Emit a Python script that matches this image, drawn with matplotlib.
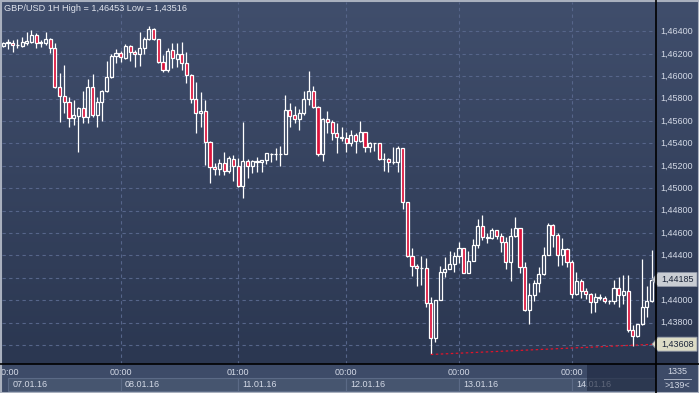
import matplotlib
matplotlib.use("Agg")
import matplotlib.pyplot as plt
import numpy as np
from matplotlib.patches import Rectangle, Polygon

plt.rcParams['font.family'] = ['Liberation Sans', 'DejaVu Sans']

# ---------------- data ----------------
title = "GBP/USD 1H High = 1,46453 Low = 1,43516"

opens = [1.46270, 1.46300, 1.46300, 1.46279, 1.46273, 1.46300, 1.46309, 1.46368, 1.46294, 1.46294,
         1.46330, 1.46250, 1.45907, 1.45826, 1.45767, 1.45625, 1.45648, 1.45714, 1.45633, 1.45907,
         1.45654, 1.45767, 1.45868, 1.45991, 1.46181, 1.46205, 1.46160, 1.46270, 1.46214, 1.46199,
         1.46250, 1.46333, 1.46419, 1.46333, 1.46130, 1.46056, 1.46235, 1.46157, 1.46196, 1.46121,
         1.46011, 1.45794, 1.45669, 1.45690, 1.45416, 1.45187, 1.45169, 1.45223, 1.45154, 1.45261,
         1.45199, 1.45020, 1.45243, 1.45199, 1.45237, 1.45232, 1.45252, 1.45306, 1.45306, 1.45303,
         1.45303, 1.45699, 1.45654, 1.45618, 1.45669, 1.45794, 1.45868, 1.45728, 1.45306, 1.45616,
         1.45594, 1.45496, 1.45460, 1.45446, 1.45401, 1.45475, 1.45425, 1.45499, 1.45366, 1.45401,
         1.45401, 1.45261, 1.45258, 1.45232, 1.45232, 1.45357, 1.44875, 1.44398, 1.44308, 1.44285,
         1.44285, 1.43973, 1.43660, 1.44002, 1.44255, 1.44276, 1.44324, 1.44395, 1.44464, 1.44240,
         1.44350, 1.44493, 1.44663, 1.44553, 1.44553, 1.44627, 1.44576, 1.44523, 1.44344, 1.44574,
         1.44642, 1.44299, 1.43913, 1.44047, 1.44157, 1.44234, 1.44404, 1.44672, 1.44582, 1.44404,
         1.44455, 1.44339, 1.44053, 1.44172, 1.44083, 1.44053, 1.43982, 1.44023, 1.44023, 1.43993,
         1.43993, 1.44107, 1.44047, 1.44083, 1.43734, 1.43683, 1.43785, 1.43937, 1.43993]

highs = [1.46306, 1.46330, 1.46324, 1.46330, 1.46348, 1.46393, 1.46413, 1.46384, 1.46324, 1.46398,
         1.46339, 1.46300, 1.46026, 1.46101, 1.45812, 1.45788, 1.45723, 1.45871, 1.45973, 1.46020,
         1.45812, 1.45877, 1.46139, 1.46196, 1.46241, 1.46226, 1.46288, 1.46279, 1.46235, 1.46393,
         1.46348, 1.46453, 1.46428, 1.46333, 1.46190, 1.46250, 1.46294, 1.46300, 1.46309, 1.46219,
         1.46020, 1.45951, 1.45857, 1.45788, 1.45422, 1.45223, 1.45261, 1.45321, 1.45288, 1.45297,
         1.45267, 1.45594, 1.45261, 1.45252, 1.45276, 1.45256, 1.45317, 1.45312, 1.45357, 1.45377,
         1.45833, 1.45764, 1.45734, 1.45705, 1.45868, 1.46047, 1.45913, 1.45734, 1.45625, 1.45690,
         1.45610, 1.45580, 1.45550, 1.45505, 1.45520, 1.45491, 1.45600, 1.45505, 1.45416, 1.45407,
         1.45407, 1.45317, 1.45267, 1.45366, 1.45377, 1.45357, 1.44875, 1.44464, 1.44324, 1.44395,
         1.44374, 1.44032, 1.44002, 1.44306, 1.44383, 1.44439, 1.44433, 1.44517, 1.44464, 1.44439,
         1.44547, 1.44725, 1.44761, 1.44598, 1.44642, 1.44627, 1.44598, 1.44562, 1.44642, 1.44746,
         1.44642, 1.44344, 1.44151, 1.44181, 1.44299, 1.44473, 1.44687, 1.44681, 1.44598, 1.44553,
         1.44469, 1.44359, 1.44255, 1.44190, 1.44107, 1.44062, 1.44067, 1.44053, 1.44038, 1.44002,
         1.44181, 1.44205, 1.44225, 1.44225, 1.43779, 1.43785, 1.44365, 1.44127, 1.44448]

lows = [1.46261, 1.46241, 1.46219, 1.46250, 1.46264, 1.46279, 1.46294, 1.46250, 1.46259, 1.46279,
        1.46205, 1.45892, 1.45594, 1.45669, 1.45544, 1.45565, 1.45326, 1.45585, 1.45585, 1.45639,
        1.45550, 1.45603, 1.45862, 1.45982, 1.46116, 1.46130, 1.46151, 1.46136, 1.46085, 1.46092,
        1.46196, 1.46324, 1.46324, 1.46121, 1.46041, 1.46041, 1.46071, 1.46085, 1.46056, 1.45942,
        1.45764, 1.45496, 1.45550, 1.45208, 1.45050, 1.45118, 1.45118, 1.45118, 1.45139, 1.45067,
        1.45015, 1.44916, 1.45089, 1.45134, 1.45148, 1.45148, 1.45217, 1.45237, 1.45252, 1.45199,
        1.45303, 1.45550, 1.45580, 1.45520, 1.45654, 1.45743, 1.45714, 1.45291, 1.45243, 1.45496,
        1.45431, 1.45317, 1.45425, 1.45326, 1.45377, 1.45317, 1.45416, 1.45326, 1.45326, 1.45333,
        1.45252, 1.45157, 1.45148, 1.45217, 1.45148, 1.44815, 1.44389, 1.44219, 1.44130, 1.44136,
        1.43942, 1.43516, 1.43630, 1.44002, 1.44210, 1.44276, 1.44255, 1.44330, 1.44240, 1.44240,
        1.44350, 1.44464, 1.44538, 1.44508, 1.44544, 1.44544, 1.44433, 1.44279, 1.44174, 1.44562,
        1.44246, 1.43906, 1.43788, 1.43996, 1.44076, 1.44225, 1.44404, 1.44478, 1.44306, 1.44315,
        1.44299, 1.44017, 1.44047, 1.44017, 1.44008, 1.43889, 1.43898, 1.44002, 1.43973, 1.43967,
        1.43967, 1.43942, 1.43967, 1.43719, 1.43591, 1.43672, 1.43779, 1.43853, 1.43987]

closes = [1.46300, 1.46302, 1.46276, 1.46279, 1.46303, 1.46315, 1.46368, 1.46294, 1.46303, 1.46330,
          1.46250, 1.45907, 1.45826, 1.45767, 1.45625, 1.45654, 1.45714, 1.45633, 1.45907, 1.45654,
          1.45767, 1.45868, 1.45991, 1.46181, 1.46205, 1.46169, 1.46270, 1.46214, 1.46199, 1.46250,
          1.46333, 1.46419, 1.46333, 1.46130, 1.46056, 1.46228, 1.46160, 1.46196, 1.46121, 1.46011,
          1.45794, 1.45669, 1.45690, 1.45416, 1.45187, 1.45169, 1.45223, 1.45154, 1.45267, 1.45199,
          1.45020, 1.45243, 1.45199, 1.45243, 1.45241, 1.45252, 1.45312, 1.45306, 1.45308, 1.45303,
          1.45699, 1.45645, 1.45618, 1.45669, 1.45794, 1.45868, 1.45728, 1.45306, 1.45616, 1.45594,
          1.45496, 1.45460, 1.45446, 1.45401, 1.45475, 1.45425, 1.45499, 1.45366, 1.45401, 1.45401,
          1.45261, 1.45261, 1.45232, 1.45236, 1.45357, 1.44875, 1.44398, 1.44308, 1.44285, 1.44285,
          1.43973, 1.43660, 1.44002, 1.44255, 1.44276, 1.44324, 1.44395, 1.44464, 1.44240, 1.44350,
          1.44493, 1.44663, 1.44562, 1.44562, 1.44627, 1.44576, 1.44523, 1.44344, 1.44574, 1.44642,
          1.44299, 1.43913, 1.44047, 1.44157, 1.44234, 1.44404, 1.44672, 1.44582, 1.44404, 1.44455,
          1.44339, 1.44053, 1.44172, 1.44083, 1.44053, 1.43982, 1.44026, 1.44023, 1.43993, 1.43993,
          1.44107, 1.44047, 1.44083, 1.43734, 1.43683, 1.43785, 1.43937, 1.43993, 1.44185]

price_ticks = [1.464, 1.462, 1.460, 1.458, 1.456, 1.454, 1.452, 1.450, 1.448, 1.446, 1.444,
               1.442, 1.440, 1.438, 1.436]
price_labels_hidden = [1.442, 1.436]          # covered by the flags
time_idx = [1, 25, 50, 73, 97, 121]
time_labels = ["00:00", "00:00", "01:00", "00:00", "00:00", "00:00"]
date_labels = ["07.01.16", "08.01.16", "11.01.16", "12.01.16", "13.01.16", "14.01.16"]
last_price = 1.44185
trend_start_idx = 91
trend_start = 1.43516
trend_end = 1.43608
bars_total = "1335"
bars_visible = ">139<"

n = len(opens)
assert len(highs) == n and len(lows) == n and len(closes) == n

# ---------------- layout ----------------
W, H = 699, 393
fig = plt.figure(figsize=(W / 100, H / 100), dpi=100)
PL, PR, PT, PB = 2, 656, 2, 364       # plot area in pixels
XMIN, XMAX = -0.27, 138.94
YMIN, YMAX = 1.43431, 1.46663

BULL_EDGE = "#ffffff"
BEAR_FILL = "#dc143c"
GRID = "#56658a"
TXT = "#d3d9e6"

# background
bg = fig.add_axes([0, 0, 1, 1], zorder=0)
bg.set_xlim(0, W); bg.set_ylim(H, 0); bg.axis("off")
top = np.array([0x40, 0x4e, 0x6c]) / 255.0
bot = np.array([0x2b, 0x37, 0x51]) / 255.0
t = np.linspace(0, 1, 200)[:, None, None]
grad = top + (bot - top) * t
grad = np.repeat(grad, 2, axis=1)
bg.imshow(grad, extent=(0, W, PB, 0), aspect="auto", interpolation="bilinear")
bg.add_patch(Rectangle((0, PB), W, H - PB, facecolor="#3d4b68", edgecolor="none"))

# main axes
ax = fig.add_axes([PL / W, 1 - PB / H, (PR - PL) / W, (PB - PT) / H], zorder=1)
ax.set_facecolor("none")
ax.set_xlim(XMIN, XMAX); ax.set_ylim(YMIN, YMAX)
for s in ax.spines.values():
    s.set_visible(False)
ax.set_xticks([]); ax.set_yticks([])

for p in price_ticks:
    ax.axhline(p, color=GRID, lw=0.8, dashes=(3, 3), zorder=1)
for i in time_idx[1:]:
    ax.axvline(i, color=GRID, lw=0.8, dashes=(3, 3), zorder=1)

bw = 0.66
for i in range(n):
    o, h, l, c = opens[i], highs[i], lows[i], closes[i]
    btop, bbot = max(o, c), min(o, c)
    ax.plot([i, i], [btop, h], color="white", lw=0.9, zorder=2, solid_capstyle="butt")
    ax.plot([i, i], [l, bbot], color="white", lw=0.9, zorder=2, solid_capstyle="butt")
    hgt = max(btop - bbot, 0.00002)
    fc = BEAR_FILL if c < o else "none"
    ax.add_patch(Rectangle((i - bw / 2, bbot), bw, hgt, facecolor=fc,
                           edgecolor="white", lw=0.9, zorder=3))

ax.plot([trend_start_idx, XMAX], [trend_start, trend_end], color="#e0142a",
        lw=0.9, dashes=(2, 2), zorder=4)

# time strip axes
tax = fig.add_axes([PL / W, 0, (PR - PL) / W, (H - PB) / H], zorder=2)
tax.set_facecolor("none")
tax.set_xlim(XMIN, XMAX); tax.set_ylim(H - PB, 0)
for s in tax.spines.values():
    s.set_visible(False)
tax.set_xticks([]); tax.set_yticks([])
bounds = time_idx + [XMAX + 1]
for k, (i, lab) in enumerate(zip(time_idx, time_labels)):
    tax.text(i, 8.5, lab, ha="center", va="center", fontsize=6.5, color=TXT, clip_on=True)
    tax.add_patch(Rectangle((i, 14), bounds[k + 1] - i, 13, facecolor="#46556f",
                            edgecolor="#5b6a86", lw=0.8, zorder=1))
    tax.text(i + 0.9, 20.5, date_labels[k], ha="left", va="center", fontsize=6.5,
             color=TXT, clip_on=True, zorder=2)
tax.add_patch(Rectangle((124.3, 0), XMAX - 124.3 + 1, H - PB - 2, facecolor="#1f2940",
                        alpha=0.65, edgecolor="none", zorder=3))

# overlay in pixel coordinates
ov = fig.add_axes([0, 0, 1, 1], zorder=4)
ov.set_xlim(0, W); ov.set_ylim(H, 0); ov.axis("off")
ov.patch.set_visible(False)


def ypix(p):
    disp = ax.transData.transform((0, p))
    return H - disp[1]


ov.text(4, 8.5, title, ha="left", va="center", fontsize=6.6, color="#dfe3ec")

for p in price_ticks:
    if any(abs(p - q) < 1e-9 for q in price_labels_hidden):
        continue
    ov.text(660, ypix(p), f"{p:.5f}".replace(".", ","), ha="left", va="center",
            fontsize=6.5, color=TXT)


def flag(p, face, text):
    y = ypix(p)
    poly = Polygon([(652, y), (658, y - 7), (697, y - 7), (697, y + 7), (658, y + 7)],
                   closed=True, facecolor=face, edgecolor="#8e96a6", lw=0.6)
    ov.add_patch(poly)
    ov.text(661, y, text, ha="left", va="center", fontsize=6.5, color="#1a2438")


flag(last_price, "#c9cdd3", f"{last_price:.5f}".replace(".", ","))
flag(trend_end, "#dcdcc6", f"{trend_end:.5f}".replace(".", ","))

# separators and frame
ov.plot([PR, PR], [0, H], color="black", lw=1.2)
ov.plot([0, W], [PB, PB], color="black", lw=1.2)
ov.add_patch(Rectangle((0.5, 0.5), W - 1, H - 1, facecolor="none", edgecolor="#a9b0be", lw=1.5))

ov.text(677, 372, bars_total, ha="center", va="center", fontsize=6.5, color=TXT)
ov.plot([664, 691], [378.5, 378.5], color="#aab3c4", lw=0.7)
ov.text(677, 385, bars_visible, ha="center", va="center", fontsize=6.5, color=TXT)

fig.savefig("out.png", dpi=100)
